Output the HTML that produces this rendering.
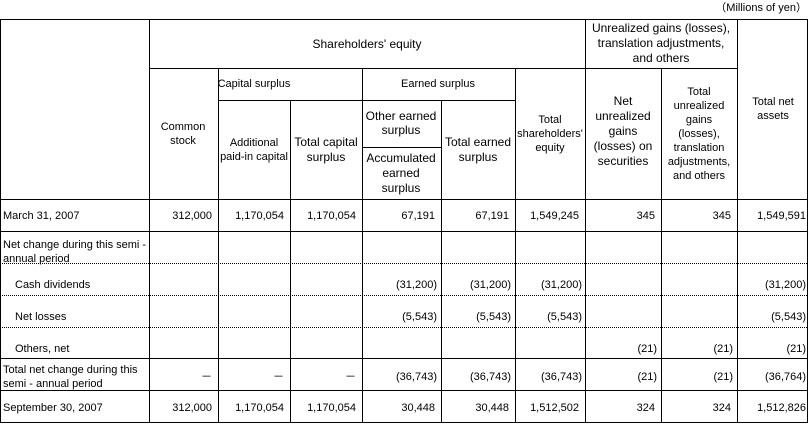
<!DOCTYPE html>
<html><head><style>
html,body{margin:0;padding:0;background:#fff;}
svg{display:block;}
text{font-family:"Liberation Sans",sans-serif;font-size:11px;fill:#000;}
.b{font-size:12px;}
.m{text-anchor:middle;}
.e{text-anchor:end;}
</style></head><body>
<svg width="809" height="424" viewBox="0 0 809 424">
<g stroke="#000" stroke-width="1" fill="none" shape-rendering="crispEdges">
<rect x="0.5" y="19.5" width="807" height="403"/>
<line x1="149.5" y1="19" x2="149.5" y2="423"/>
<line x1="585.5" y1="19" x2="585.5" y2="423"/>
<line x1="737.5" y1="19" x2="737.5" y2="423"/>
<line x1="218.5" y1="68" x2="218.5" y2="423"/>
<line x1="362.5" y1="68" x2="362.5" y2="423"/>
<line x1="515.5" y1="68" x2="515.5" y2="423"/>
<line x1="661.5" y1="68" x2="661.5" y2="423"/>
<line x1="290.5" y1="100" x2="290.5" y2="423"/>
<line x1="441.5" y1="100" x2="441.5" y2="423"/>
<line x1="149" y1="68.5" x2="737" y2="68.5"/>
<line x1="218" y1="100.5" x2="515" y2="100.5"/>
<line x1="362" y1="147.5" x2="441" y2="147.5"/>
<line x1="0" y1="199.5" x2="808" y2="199.5"/>
<line x1="0" y1="231.5" x2="808" y2="231.5"/>
<line x1="0" y1="358.5" x2="808" y2="358.5"/>
<line x1="0" y1="390.5" x2="808" y2="390.5"/>
</g>
<g stroke="#000" stroke-width="1" stroke-dasharray="1,1" shape-rendering="crispEdges">
<line x1="0" y1="263.5" x2="808" y2="263.5"/>
<line x1="0" y1="295.5" x2="808" y2="295.5"/>
<line x1="0" y1="327.5" x2="808" y2="327.5"/>
</g>
<text x="807" y="11" class="e">（Millions of yen）</text>
<text x="367" y="48" class="m b">Shareholders' equity</text>
<text x="661" y="32" class="m b">Unrealized gains (losses),</text>
<text x="661" y="47" class="m b">translation adjustments,</text>
<text x="661" y="62" class="m b">and others</text>
<text x="254" y="87" class="m">Capital surplus</text>
<text x="438" y="87" class="m">Earned surplus</text>
<text x="183" y="130" class="m">Common</text>
<text x="183" y="144" class="m">stock</text>
<text x="254" y="146" class="m">Additional</text>
<text x="254" y="160" class="m">paid-in capital</text>
<text x="326" y="146" class="m b">Total capital</text>
<text x="326" y="161" class="m b">surplus</text>
<text x="401" y="120" class="m b">Other earned</text>
<text x="401" y="134" class="m b">surplus</text>
<text x="401" y="162" class="m b">Accumulated</text>
<text x="401" y="177" class="m b">earned</text>
<text x="401" y="192" class="m b">surplus</text>
<text x="478" y="146" class="m b">Total earned</text>
<text x="478" y="161" class="m b">surplus</text>
<text x="550" y="123" class="m">Total</text>
<text x="550" y="137" class="m">shareholders'</text>
<text x="550" y="151" class="m">equity</text>
<text x="623" y="105" class="m b">Net</text>
<text x="623" y="120" class="m b">unrealized</text>
<text x="623" y="135" class="m b">gains</text>
<text x="623" y="150" class="m b">(losses) on</text>
<text x="623" y="165" class="m b">securities</text>
<text x="699" y="95" class="m">Total</text>
<text x="699" y="109" class="m">unrealized</text>
<text x="699" y="123" class="m">gains</text>
<text x="699" y="137" class="m">(losses),</text>
<text x="699" y="151" class="m">translation</text>
<text x="699" y="165" class="m">adjustments,</text>
<text x="699" y="179" class="m">and others</text>
<text x="773" y="105" class="m">Total net</text>
<text x="773" y="119" class="m">assets</text>

<text x="3" y="219">March 31, 2007</text>
<text x="3" y="248">Net change during this semi  -</text>
<text x="3" y="262">annual period</text>
<text x="15" y="288">Cash dividends</text>
<text x="15" y="320">Net losses</text>
<text x="15" y="352">Others, net</text>
<text x="3" y="373">Total net change during this</text>
<text x="3" y="387">semi  -  annual period</text>
<text x="3" y="411">September 30, 2007</text>

<g class="e">
<text x="212" y="219" class="e">312,000</text>
<text x="284" y="219" class="e">1,170,054</text>
<text x="356" y="219" class="e">1,170,054</text>
<text x="435" y="219" class="e">67,191</text>
<text x="509" y="219" class="e">67,191</text>
<text x="579" y="219" class="e">1,549,245</text>
<text x="655" y="219" class="e">345</text>
<text x="731" y="219" class="e">345</text>
<text x="806" y="219" class="e">1,549,591</text>

<text x="437" y="288" class="e">(31,200)</text>
<text x="511" y="288" class="e">(31,200)</text>
<text x="582" y="288" class="e">(31,200)</text>
<text x="806" y="288" class="e">(31,200)</text>

<text x="437" y="320" class="e">(5,543)</text>
<text x="511" y="320" class="e">(5,543)</text>
<text x="582" y="320" class="e">(5,543)</text>
<text x="806" y="320" class="e">(5,543)</text>

<text x="657" y="352" class="e">(21)</text>
<text x="733" y="352" class="e">(21)</text>
<text x="806" y="352" class="e">(21)</text>

<text x="212" y="380" class="e">－</text>
<text x="284" y="380" class="e">－</text>
<text x="356" y="380" class="e">－</text>
<text x="437" y="380" class="e">(36,743)</text>
<text x="511" y="380" class="e">(36,743)</text>
<text x="582" y="380" class="e">(36,743)</text>
<text x="657" y="380" class="e">(21)</text>
<text x="733" y="380" class="e">(21)</text>
<text x="806" y="380" class="e">(36,764)</text>

<text x="212" y="411" class="e">312,000</text>
<text x="284" y="411" class="e">1,170,054</text>
<text x="356" y="411" class="e">1,170,054</text>
<text x="435" y="411" class="e">30,448</text>
<text x="509" y="411" class="e">30,448</text>
<text x="579" y="411" class="e">1,512,502</text>
<text x="655" y="411" class="e">324</text>
<text x="731" y="411" class="e">324</text>
<text x="806" y="411" class="e">1,512,826</text>
</g>
</svg>
</body></html>
